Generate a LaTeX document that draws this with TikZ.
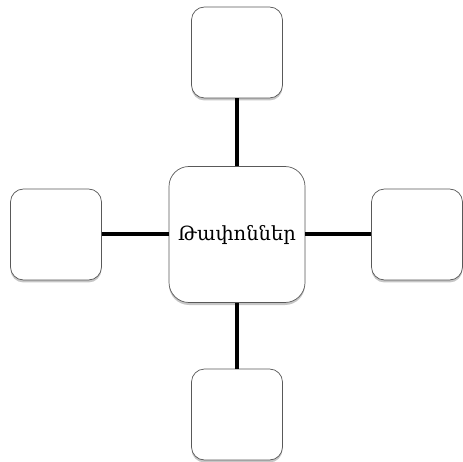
\documentclass[tikz,border=0pt]{standalone}
\usepackage{fontspec}
\newfontfamily\armfont[Script=Armenian]{DejaVu Serif}
\usetikzlibrary{shadows}

\tikzset{
  box/.style={draw=gray!70!black, line width=0.7pt, fill=white, rounded corners=13pt, minimum size=91pt,
              inner sep=0pt, drop shadow={opacity=0.45, shadow xshift=0pt, shadow yshift=-2.5pt}},
  bigbox/.style={box, rounded corners=20pt, minimum size=136pt},
  link/.style={line width=4pt, black}
}

\begin{document}
\begin{tikzpicture}[x=1pt, y=-1pt]

    \useasboundingbox (0,0) rectangle (463,462);

    % Center
    \node[bigbox] (center) at (237,234.5) {\armfont\fontsize{19.5}{22}\selectfont Թափոններ};

    % Satellites
    \node[box] (top) at (237,52.5) {};
    \node[box] (left) at (56,234.5) {};
    \node[box] (right) at (417,234.5) {};
    \node[box] (bottom) at (237,414.5) {};

    % Links
    \draw[link] (center.north) -- (top.south);
    \draw[link] (center.west) -- (left.east);
    \draw[link] (center.east) -- (right.west);
    \draw[link] (center.south) -- (bottom.north);

\end{tikzpicture}
\end{document}
